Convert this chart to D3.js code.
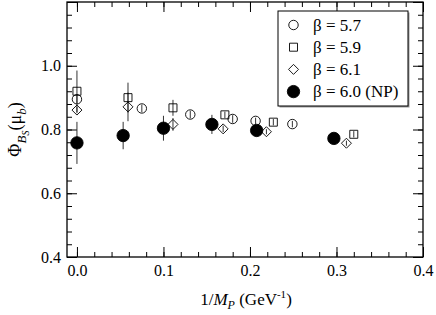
<!DOCTYPE html>
<html>
<head>
<meta charset="utf-8">
<script src="https://cdn.jsdelivr.net/npm/d3@7"></script>
<style>
  body { margin: 0; background: #fff; }
  svg, svg text { font-family: "Liberation Serif", "DejaVu Serif", serif !important; }
</style>
</head>
<body>
<div id="chart"></div>
<script>
var svgWidth = 436;
var svgHeight = 315;

var margin = { top: 2, right: 13, bottom: 58, left: 67 };
var width = svgWidth - margin.left - margin.right;
var height = svgHeight - margin.top - margin.bottom;

// series: [1/M_P, Phi, error]
var beta57 = [[0.0, 0.895, 0.012], [0.075, 0.866, 0.012], [0.131, 0.847, 0.012],
              [0.180, 0.833, 0.012], [0.2065, 0.827, 0.010], [0.249, 0.817, 0.010]];
var beta59 = [[0.0, 0.920, 0.065], [0.059, 0.900, 0.047], [0.111, 0.868, 0.025],
              [0.171, 0.846, 0.010], [0.227, 0.823, 0.010], [0.320, 0.785, 0.010]];
var beta61 = [[0.0, 0.861, 0.010], [0.059, 0.871, 0.045], [0.111, 0.816, 0.020],
              [0.169, 0.802, 0.010], [0.219, 0.793, 0.008], [0.3115, 0.757, 0.008]];
var beta60np = [[0.0, 0.758, 0.066], [0.0534, 0.781, 0.043], [0.100, 0.804, 0.039],
                [0.156, 0.816, 0.030], [0.2077, 0.797, 0.012], [0.297, 0.772, 0.006]];

var xTicks = [0.0, 0.1, 0.2, 0.3, 0.4];
var yTicks = [0.4, 0.6, 0.8, 1.0];
var legendLabels = ["\u03b2 = 5.7", "\u03b2 = 5.9", "\u03b2 = 6.1", "\u03b2 = 6.0 (NP)"];

var svg = d3.select("#chart")
  .append("svg")
  .attr("width", svgWidth)
  .attr("height", svgHeight)
  .attr("font-family", "Liberation Serif");

var chartGroup = svg.append("g")
  .attr("transform", `translate(${margin.left}, ${margin.top})`);

var x = d3.scaleLinear().domain([-0.0115, 0.4]).range([0, width]);
var y = d3.scaleLinear().domain([0.4, 1.2]).range([height, 0]);

var xMinor = d3.range(0, 0.401, 0.02);
var yMinor = d3.range(0.4, 1.201, 0.04);

// inward ticks on all four sides
function tickAxis(axis, scale, vals, len, transform) {
  chartGroup.append("g")
    .attr("transform", transform)
    .call(axis(scale).tickValues(vals).tickSize(len).tickFormat(""))
    .call(g => g.select(".domain").remove())
    .call(g => g.selectAll("line").attr("stroke", "#000").attr("stroke-width", 1));
}
tickAxis(d3.axisTop, x, xMinor, 5, `translate(0, ${height})`);
tickAxis(d3.axisTop, x, xTicks, 10, `translate(0, ${height})`);
tickAxis(d3.axisBottom, x, xMinor, 5, "translate(0, 0)");
tickAxis(d3.axisBottom, x, xTicks, 10, "translate(0, 0)");
tickAxis(d3.axisRight, y, yMinor, 5, "translate(0, 0)");
tickAxis(d3.axisRight, y, yTicks.concat([1.2]), 10, "translate(0, 0)");
tickAxis(d3.axisLeft, y, yMinor, 5, `translate(${width}, 0)`);
tickAxis(d3.axisLeft, y, yTicks.concat([1.2]), 10, `translate(${width}, 0)`);

// tick labels
var bottomAxis = d3.axisBottom(x).tickValues(xTicks).tickSize(0).tickPadding(8)
  .tickFormat(d3.format(".1f"));
chartGroup.append("g")
  .attr("transform", `translate(0, ${height})`)
  .call(bottomAxis)
  .call(g => g.select(".domain").remove())
  .attr("font-family", "Liberation Serif")
  .attr("font-size", 16)
  .selectAll("text").attr("fill", "#000");

var leftAxis = d3.axisLeft(y).tickValues(yTicks).tickSize(0).tickPadding(6)
  .tickFormat(d3.format(".1f"));
chartGroup.append("g")
  .call(leftAxis)
  .call(g => g.select(".domain").remove())
  .attr("font-family", "Liberation Serif")
  .attr("font-size", 16)
  .selectAll("text").attr("fill", "#000");

// frame
chartGroup.append("rect")
  .attr("width", width).attr("height", height)
  .attr("fill", "none").attr("stroke", "#000").attr("stroke-width", 1.3);

// error bars
var allSeries = [beta57, beta59, beta61, beta60np];
allSeries.forEach(function(s) {
  chartGroup.selectAll(null)
    .data(s)
    .enter()
    .append("line")
    .attr("x1", d => x(d[0])).attr("x2", d => x(d[0]))
    .attr("y1", d => y(d[1] - d[2])).attr("y2", d => y(d[1] + d[2]))
    .attr("stroke", "#333").attr("stroke-width", 1);
});

// markers
var squareDiamond = {
  draw: function(ctx, size) {
    var r = Math.sqrt(size) / 2;
    ctx.moveTo(0, -r); ctx.lineTo(r, 0); ctx.lineTo(0, r); ctx.lineTo(-r, 0); ctx.closePath();
  }
};
var symTypes = [d3.symbolCircle, d3.symbolSquare, squareDiamond, d3.symbolCircle];
var symSize = [70, 64, 100, 120];
function drawMarks(group, data, i) {
  group.selectAll(null)
    .data(data)
    .enter()
    .append("path")
    .attr("transform", d => `translate(${x(d[0])}, ${y(d[1])})`)
    .attr("d", d3.symbol().type(symTypes[i]).size(symSize[i]))
    .attr("fill", i === 3 ? "#000" : "none")
    .attr("stroke", "#000")
    .attr("stroke-width", 0.9);
}
allSeries.forEach(function(s, i) { drawMarks(chartGroup, s, i); });

// legend
var legend = svg.append("g").attr("transform", "translate(278, 11)");
legend.append("rect")
  .attr("x", 1.5).attr("y", 1.5).attr("width", 130).attr("height", 95)
  .attr("fill", "#999");
legend.append("rect")
  .attr("width", 130).attr("height", 95)
  .attr("fill", "#fff").attr("stroke", "#000").attr("stroke-width", 1);
legendLabels.forEach(function(label, i) {
  var ly = 14 + i * 22.2;
  legend.append("path")
    .attr("transform", `translate(15.5, ${ly})`)
    .attr("d", d3.symbol().type(symTypes[i]).size(symSize[i]))
    .attr("fill", i === 3 ? "#000" : "none")
    .attr("stroke", "#000").attr("stroke-width", 0.9);
  legend.append("text")
    .attr("x", 35).attr("y", ly + 5.5)
    .attr("font-size", 17)
    .text(label);
});

// axis labels
var xLabel = svg.append("text")
  .attr("x", margin.left + width / 2 + 1)
  .attr("y", 305)
  .attr("text-anchor", "middle")
  .attr("font-size", 17);
xLabel.append("tspan").text("1/");
xLabel.append("tspan").attr("font-style", "italic").text("M");
xLabel.append("tspan").attr("font-style", "italic").attr("font-size", 12).attr("dy", 4).text("P");
xLabel.append("tspan").attr("dy", -4).text(" (GeV");
xLabel.append("tspan").attr("font-size", 11).attr("dy", -7).text("-1");
xLabel.append("tspan").attr("dy", 7).text(")");

var yLabel = svg.append("text")
  .attr("transform", `translate(21, ${margin.top + height / 2}) rotate(-90)`)
  .attr("text-anchor", "middle")
  .attr("font-size", 18);
yLabel.append("tspan").text("\u03a6");
yLabel.append("tspan").attr("font-style", "italic").attr("font-size", 13).attr("dy", 5).text("B");
yLabel.append("tspan").attr("font-style", "italic").attr("font-size", 10).attr("dy", 3).text("S");
yLabel.append("tspan").attr("dy", -8).text("(\u03bc");
yLabel.append("tspan").attr("font-style", "italic").attr("font-size", 13).attr("dy", 5).text("b");
yLabel.append("tspan").attr("dy", -5).text(")");
</script>
</body>
</html>
